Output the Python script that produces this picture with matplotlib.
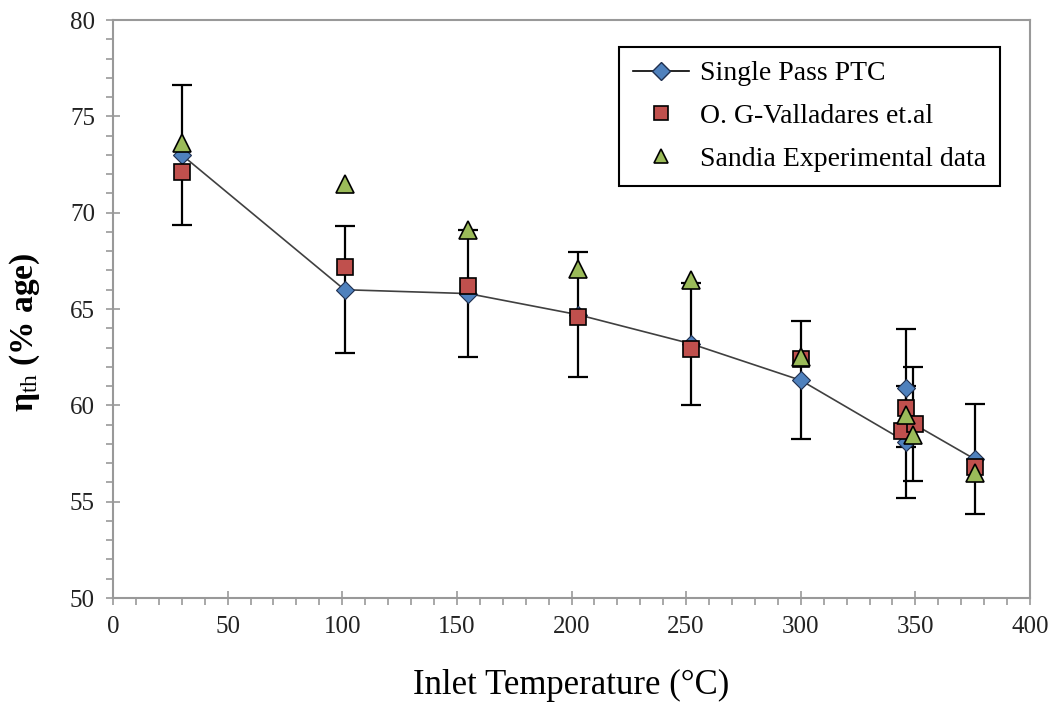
import matplotlib
matplotlib.use('Agg')
import matplotlib.pyplot as plt
from matplotlib.ticker import MultipleLocator

plt.rcParams['font.family'] = ['Liberation Serif', 'DejaVu Serif']
plt.rcParams['mathtext.fontset'] = 'custom'
plt.rcParams['mathtext.rm'] = 'Liberation Serif'
plt.rcParams['mathtext.it'] = 'Liberation Serif:italic'
plt.rcParams['mathtext.bf'] = 'Liberation Serif:bold'

# Single Pass PTC (model), error bars = 5 %
# last point (346, 60.9) is not joined by the line
ptc_x = [30, 101, 155, 203, 252, 300, 346, 349, 376, 346]
ptc_y = [73.0, 66.0, 65.8, 64.7, 63.2, 61.3, 58.1, 59.05, 57.2, 60.9]
err_frac = 0.05

# O. G-Valladares et.al
val_x = [30, 101, 155, 203, 252, 300, 346, 344, 350, 376]
val_y = [72.1, 67.2, 66.2, 64.6, 62.9, 62.4, 59.85, 58.65, 59.05, 56.8]

# Sandia Experimental data
san_x = [30, 101, 155, 203, 252, 300, 346, 349, 376]
san_y = [73.6, 71.5, 69.1, 67.1, 66.5, 62.5, 59.5, 58.45, 56.5]

fig = plt.figure(figsize=(10.57, 7.02), dpi=100)
ax = fig.add_axes([113 / 1057, 1 - 598 / 702, (1030 - 113) / 1057, (598 - 20) / 702])

ax.plot(ptc_x[:-1], ptc_y[:-1], color='#404040', lw=1.2, zorder=2)
ax.errorbar(ptc_x, ptc_y, yerr=[v * err_frac for v in ptc_y], fmt='none',
            ecolor='black', elinewidth=1.6, capsize=7, capthick=1.6, zorder=3)
ax.plot(ptc_x, ptc_y, ls='none', marker='D', ms=9, mfc='#4f81bd', mec='#1f2f4f',
        mew=0.8, zorder=4)
ax.plot(val_x, val_y, ls='none', marker='s', ms=12, mfc='#c0504d', mec='black',
        mew=1.2, zorder=5)
ax.plot(san_x, san_y, ls='none', marker='^', ms=13, mfc='#9bbb59', mec='black',
        mew=1.2, zorder=6)

# legend handles
h1, = ax.plot([], [], color='black', lw=1.2, marker='D', ms=9, mfc='#4f81bd', mec='#1f2f4f')
h2, = ax.plot([], [], ls='none', marker='s', ms=10, mfc='#c0504d', mec='black', mew=1.2)
h3, = ax.plot([], [], ls='none', marker='^', ms=10, mfc='#9bbb59', mec='black', mew=1.2)
leg = ax.legend([h1, h2, h3], ['Single Pass PTC', 'O. G-Valladares et.al', 'Sandia Experimental data'],
                loc='upper right', bbox_to_anchor=(0.967, 0.953), fontsize=20,
                frameon=True, fancybox=False, edgecolor='black', framealpha=1,
                handlelength=2.0, labelspacing=0.62, borderpad=0.5, handletextpad=0.4,
                borderaxespad=0)
leg.get_frame().set_linewidth(1.5)

ax.set_xlim(0, 400)
ax.set_ylim(50, 80)
ax.xaxis.set_major_locator(MultipleLocator(50))
ax.xaxis.set_minor_locator(MultipleLocator(10))
ax.yaxis.set_major_locator(MultipleLocator(5))
ax.yaxis.set_minor_locator(MultipleLocator(1))

for s in ax.spines.values():
    s.set_color('#999999')
    s.set_linewidth(1.5)

ax.tick_params(which='major', direction='inout', length=10, width=1.2, color='#999999',
               labelsize=18, labelcolor='#222222', pad=8)
ax.tick_params(which='minor', direction='out', length=5, width=1.2, color='#999999')

ax.set_xlabel('Inlet Temperature (°C)', fontsize=25, labelpad=22)
ax.set_ylabel(r'$\mathbf{\eta}_{\mathrm{th}}$ (% age)', fontsize=24, fontweight='bold')
ax.yaxis.set_label_coords(-0.077, 0.46)

fig.savefig('out.png', dpi=100)
